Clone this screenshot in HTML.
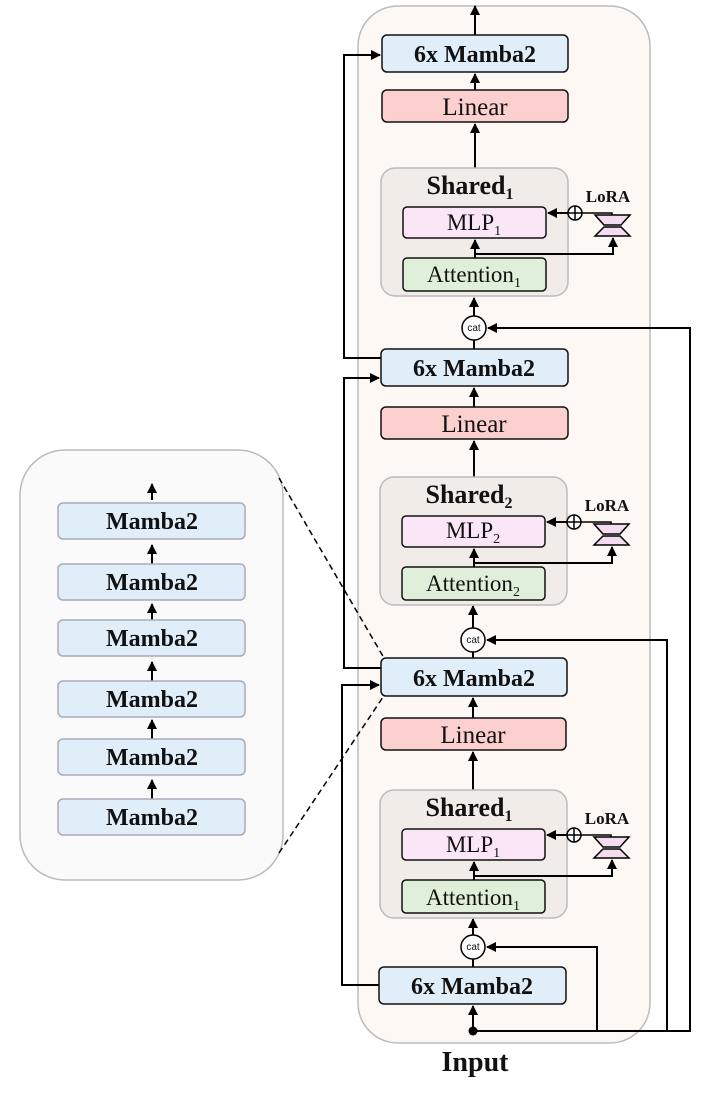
<!DOCTYPE html>
<html><head><meta charset="utf-8"><style>body{margin:0;background:#fff}svg{display:block}text{font-family:"Liberation Serif",serif;fill:#111}</style></head><body>
<svg width="704" height="1093" viewBox="0 0 704 1093" xmlns="http://www.w3.org/2000/svg">
<defs>
<marker id="a" markerWidth="10" markerHeight="10" refX="9" refY="5" orient="auto" markerUnits="userSpaceOnUse"><path d="M0,0 L10,5 L0,10 z" fill="#000"/></marker>
<g id="shared">
 <rect x="0" y="0" width="187" height="128" rx="14" fill="#f1ece8" stroke="#bbb" stroke-width="1.5"/>
 <rect x="22" y="39" width="143" height="31" rx="4" fill="#fbe6f8" stroke="#111" stroke-width="1.5"/>
 <rect x="22" y="90" width="143" height="33" rx="4" fill="#e0efd9" stroke="#111" stroke-width="1.5"/>
 <line x1="94" y1="90" x2="94" y2="72" stroke="#000" stroke-width="2" marker-end="url(#a)"/>
 <polyline points="94,86 232,86 232,70" fill="none" stroke="#000" stroke-width="2" marker-end="url(#a)"/>
 <circle cx="194" cy="45" r="7" fill="#fff" stroke="#000" stroke-width="1.5"/>
 <line x1="187" y1="45" x2="201" y2="45" stroke="#000" stroke-width="1.5"/><line x1="194" y1="38" x2="194" y2="52" stroke="#000" stroke-width="1.5"/>
 <line x1="187" y1="45" x2="167" y2="45" stroke="#000" stroke-width="2" marker-end="url(#a)"/>
 <polyline points="201,45 231,45 231,47" fill="none" stroke="#000" stroke-width="1.5"/>
 <path d="M214,47 L249,47 L240,57 L223,57 z" fill="#f3dcef" stroke="#000" stroke-width="1.5"/>
 <path d="M223,59 L240,59 L249,68 L214,68 z" fill="#f3dcef" stroke="#000" stroke-width="1.5"/>
 <text x="227" y="34" font-size="17" font-weight="bold" text-anchor="middle">LoRA</text>
</g>
</defs>
<!-- left panel -->
<rect x="20" y="450" width="263" height="430" rx="45" fill="#fafafa" stroke="#bbb" stroke-width="1.5"/>
<g stroke="#000" stroke-width="2">
<line x1="152" y1="500" x2="152" y2="484" marker-end="url(#a)"/>
<line x1="152" y1="564" x2="152" y2="545" marker-end="url(#a)"/>
<line x1="152" y1="620" x2="152" y2="604" marker-end="url(#a)"/>
<line x1="152" y1="681" x2="152" y2="662" marker-end="url(#a)"/>
<line x1="152" y1="739" x2="152" y2="720" marker-end="url(#a)"/>
<line x1="152" y1="799" x2="152" y2="780" marker-end="url(#a)"/>
</g>
<g fill="#e0eefa" stroke="#aab" stroke-width="1.5">
<rect x="58" y="503" width="187" height="36" rx="5"/><rect x="58" y="564" width="187" height="36" rx="5"/><rect x="58" y="620" width="187" height="36" rx="5"/><rect x="58" y="681" width="187" height="36" rx="5"/><rect x="58" y="739" width="187" height="36" rx="5"/><rect x="58" y="799" width="187" height="36" rx="5"/>
</g>
<g font-size="24" font-weight="bold" text-anchor="middle">
<text x="152" y="529">Mamba2</text><text x="152" y="590">Mamba2</text><text x="152" y="646">Mamba2</text><text x="152" y="707">Mamba2</text><text x="152" y="765">Mamba2</text><text x="152" y="825">Mamba2</text>
</g>
<!-- main container -->
<rect x="358" y="6" width="292" height="1037" rx="40" fill="#fdf8f4" stroke="#bbb" stroke-width="1.5"/>
<line x1="279" y1="478" x2="384" y2="658" stroke="#000" stroke-width="1.5" stroke-dasharray="6,4"/>
<line x1="279" y1="853" x2="383" y2="697" stroke="#000" stroke-width="1.5" stroke-dasharray="6,4"/>
<!-- skip connections -->
<g fill="none" stroke="#000" stroke-width="2">
<polyline points="381,358 344,358 344,55 380,55" marker-end="url(#a)"/>
<polyline points="381,668 344,668 344,378 379,378" marker-end="url(#a)"/>
<polyline points="379,985 342,985 342,685 379,685" marker-end="url(#a)"/>
<polyline points="473,1031 690,1031 690,328 488,328" marker-end="url(#a)"/>
<polyline points="667,1031 667,640 487,640" marker-end="url(#a)"/>
<polyline points="597,1031 597,947 487,947" marker-end="url(#a)"/>
<line x1="473" y1="1031" x2="473" y2="1006" marker-end="url(#a)"/>
<line x1="475" y1="35" x2="475" y2="6" marker-end="url(#a)"/>
<line x1="475" y1="90" x2="475" y2="74" marker-end="url(#a)"/>
<line x1="475" y1="168" x2="475" y2="124" marker-end="url(#a)"/>
<line x1="474" y1="316" x2="474" y2="298" marker-end="url(#a)"/>
<line x1="474" y1="340" x2="474" y2="349"/>
<line x1="474" y1="407" x2="474" y2="388" marker-end="url(#a)"/>
<line x1="474" y1="477" x2="474" y2="441" marker-end="url(#a)"/>
<line x1="473" y1="628" x2="473" y2="606" marker-end="url(#a)"/>
<line x1="473" y1="652" x2="473" y2="658"/>
<line x1="473" y1="718" x2="473" y2="698" marker-end="url(#a)"/>
<line x1="473" y1="790" x2="473" y2="752" marker-end="url(#a)"/>
<line x1="473" y1="935" x2="473" y2="919" marker-end="url(#a)"/>
<line x1="473" y1="959" x2="473" y2="967"/>
</g>
<circle cx="473" cy="1031" r="4.5" fill="#000"/>
<!-- boxes -->
<g stroke="#111" stroke-width="1.5">
<rect x="382" y="35" width="186" height="37" rx="5" fill="#e0eefa"/>
<rect x="382" y="90" width="186" height="32" rx="5" fill="#fdd0d0"/>
<rect x="381" y="349" width="187" height="37" rx="5" fill="#e0eefa"/>
<rect x="381" y="407" width="187" height="32" rx="5" fill="#fdd0d0"/>
<rect x="381" y="658" width="186" height="38" rx="5" fill="#e0eefa"/>
<rect x="381" y="718" width="185" height="32" rx="5" fill="#fdd0d0"/>
<rect x="379" y="967" width="187" height="37" rx="5" fill="#e0eefa"/>
</g>
<use href="#shared" x="381" y="168"/>
<use href="#shared" x="380" y="477"/>
<use href="#shared" x="380" y="790"/>
<g fill="#fff" stroke="#000" stroke-width="1.5">
<circle cx="474" cy="328" r="12"/><circle cx="473" cy="640" r="12"/><circle cx="473" cy="947" r="12"/>
</g>
<g font-size="10" text-anchor="middle">
<text x="474" y="331" style="font-family:'Liberation Sans',sans-serif">cat</text><text x="473" y="643" style="font-family:'Liberation Sans',sans-serif">cat</text><text x="473" y="950" style="font-family:'Liberation Sans',sans-serif">cat</text>
</g>
<g font-size="24" font-weight="bold" text-anchor="middle">
<text x="475" y="62">6x Mamba2</text><text x="474" y="376">6x Mamba2</text><text x="474" y="686">6x Mamba2</text><text x="472" y="994">6x Mamba2</text>
</g>
<g font-size="25" text-anchor="middle">
<text x="475" y="115">Linear</text><text x="474" y="432">Linear</text><text x="473" y="743">Linear</text>
</g>
<g font-size="26" font-weight="bold" text-anchor="middle">
<text x="470" y="194">Shared<tspan font-size="16" dy="5">1</tspan></text>
<text x="469" y="503">Shared<tspan font-size="16" dy="5">2</tspan></text>
<text x="469" y="816">Shared<tspan font-size="16" dy="5">1</tspan></text>
</g>
<g font-size="23" text-anchor="middle">
<text x="474" y="230">MLP<tspan font-size="14" dy="5">1</tspan></text>
<text x="473" y="538">MLP<tspan font-size="14" dy="5">2</tspan></text>
<text x="473" y="852">MLP<tspan font-size="14" dy="5">1</tspan></text>
<text x="474" y="282">Attention<tspan font-size="14" dy="5">1</tspan></text>
<text x="473" y="591">Attention<tspan font-size="14" dy="5">2</tspan></text>
<text x="473" y="905">Attention<tspan font-size="14" dy="5">1</tspan></text>
</g>
<text x="475" y="1071" font-size="28" font-weight="bold" text-anchor="middle">Input</text>
</svg>
</body></html>
